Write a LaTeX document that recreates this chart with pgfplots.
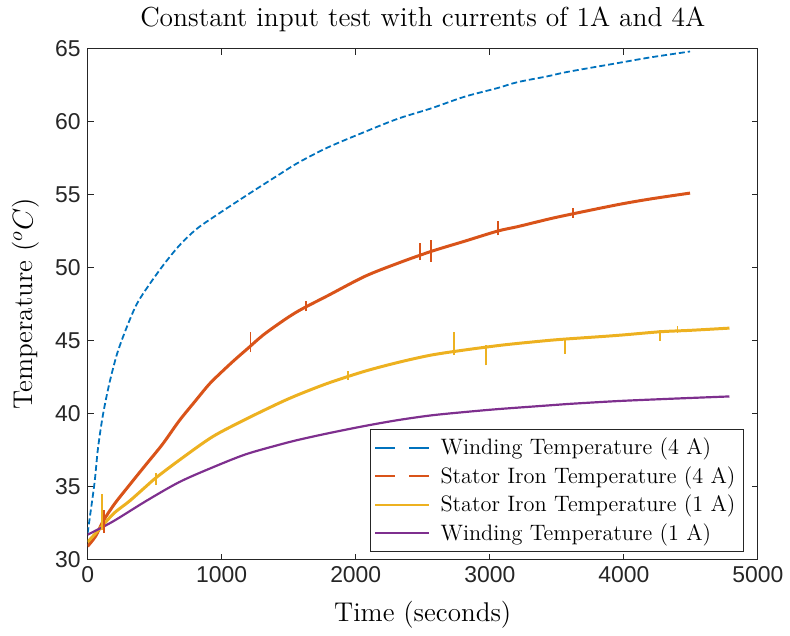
\documentclass[border=0pt]{standalone}
\usepackage{fontspec}
\usepackage{pgfplots}
\pgfplotsset{compat=1.18}
\newfontfamily\tickfont{Liberation Sans}
\definecolor{mblue}{rgb}{0,0.447,0.741}
\definecolor{morange}{rgb}{0.85,0.325,0.098}
\definecolor{myellow}{rgb}{0.929,0.694,0.125}
\definecolor{mpurple}{rgb}{0.494,0.184,0.556}
\definecolor{axgray}{rgb}{0.15,0.15,0.15}
\begin{document}
\begin{tikzpicture}
\begin{axis}[
  scale only axis,
  width=336.5pt, height=256.5pt,
  xmin=0, xmax=5000, ymin=30, ymax=65,
  xtick={0,1000,2000,3000,4000,5000},
  ytick={30,35,40,45,50,55,60,65},
  scaled ticks=false,
  /pgf/number format/.cd, 1000 sep={}, assume math mode=true,
  /pgfplots/.cd,
  tick align=inside,
  major tick length=3pt,
  axis line style={axgray, line width=0.6pt},
  every tick/.style={axgray, line width=0.6pt},
  tick label style={font=\tickfont\fontsize{11.5}{13}\selectfont, text=axgray},
  title={Constant input test with currents of 1A and 4A},
  title style={font=\fontsize{13.8}{16}\selectfont, yshift=-1pt},
  xlabel={Time (seconds)},
  ylabel={Temperature ($^oC$)},
  label style={font=\fontsize{13.6}{16}\selectfont},
  xlabel style={yshift=-2.5pt},
  ylabel style={yshift=1pt},
  unbounded coords=jump,
  legend cell align=left,
  legend style={at={(axis description cs:1,0)}, anchor=south east,
    xshift=-7pt, yshift=4pt, draw=axgray, line width=0.5pt, fill=white,
    font=\fontsize{11.2}{13.3}\selectfont, row sep=0.4pt, inner sep=2pt},
]
\addplot[mblue, line width=0.9pt, dash pattern=on 3pt off 1.5pt, smooth, tension=0.5,
  legend image code/.code={\draw[mblue, line width=1pt, dash pattern=on 10pt off 7pt] (0pt,0pt) -- (27pt,0pt); \path (30pt,0pt);}]
  coordinates {
  (0,31.8) (15,32.8) (52,35.3) (77,37.6) (114,39.9) (163,42.1) (220,44.1)
  (287,45.8) (361,47.4) (435,48.5) (559,50.1) (683,51.5) (807,52.6) (930,53.4)
  (1178,54.9) (1425,56.35) (1574,57.2) (1797,58.25) (2069,59.3) (2316,60.2)
  (2561,60.9) (2811,61.7) (3059,62.3) (3207,62.7) (3430,63.1) (3578,63.4)
  (3950,64.0) (4200,64.4) (4494,64.8)
  };
\addlegendentry{Winding Temperature (4 A)}
\addplot[morange, line width=1.5pt, smooth, tension=0.5,
  legend image code/.code={\draw[morange, line width=1pt, dash pattern=on 10pt off 7pt] (0pt,0pt) -- (27pt,0pt); \path (30pt,0pt);}]
  coordinates {
  (0,30.9) (60,31.6) (114,32.6) (200,33.8) (312,35.1) (435,36.5) (559,37.9)
  (683,39.5) (807,40.9) (906,42.0) (1000,42.85) (1100,43.7) (1200,44.5)
  (1327,45.5) (1549,46.9) (1797,48.1) (2069,49.4) (2316,50.3)
  (2561,51.1) (2811,51.8) (3059,52.5)
  (3207,52.8) (3430,53.3) (3578,53.6) (3950,54.3) (4200,54.7) (4494,55.1)
  };
\addlegendentry{Stator Iron Temperature (4 A)}
\addplot[myellow, line width=1.5pt, smooth, tension=0.5,
  legend image code/.code={\draw[myellow, line width=1pt] (0pt,0pt) -- (27pt,0pt); \path (30pt,0pt);}]
  coordinates {
  (0,31.2) (50,31.7) (109,32.3) (200,33.2) (312,34.0)
  (435,35.0) (510,35.6) (683,36.8) (930,38.4)
  (1178,39.6) (1425,40.7) (1574,41.3) (1800,42.1) (2069,42.9) (2316,43.5)
  (2561,44.0) (2811,44.35) (3059,44.65) (3207,44.8) (3430,45.0)
  (3563,45.1) (3950,45.35) (4270,45.6) (4500,45.7) (4788,45.85)
  };
\addlegendentry{Stator Iron Temperature (1 A)}
\addplot[mpurple, line width=1.1pt, smooth, tension=0.5,
  legend image code/.code={\draw[mpurple, line width=1pt] (0pt,0pt) -- (27pt,0pt); \path (30pt,0pt);}]
  coordinates {
  (0,31.7) (188,32.6) (435,34.0) (683,35.3) (930,36.3) (1178,37.2)
  (1425,37.85) (1574,38.2) (1797,38.65) (2069,39.15) (2316,39.55) (2561,39.87)
  (2811,40.1) (3059,40.3) (3430,40.55) (3578,40.65) (3950,40.85) (4321,41.0)
  (4788,41.17)
  };
\addlegendentry{Winding Temperature (1 A)}
% measurement spikes
\addplot[morange, line width=0.9pt, forget plot] coordinates {
  (125,31.8) (125,33.4) (125,nan)
  (1215,44.2) (1215,45.6) (1215,nan)
  (1630,47.0) (1630,47.7) (1630,nan)
  (2477,50.5) (2477,51.7) (2477,nan)
  (2561,50.4) (2561,51.9) (2561,nan)
  (3059,52.2) (3059,53.2) (3059,nan)
  (3620,53.4) (3620,54.1)
  };
\addplot[myellow, line width=0.9pt, forget plot] coordinates {
  (109,32.0) (109,34.5) (109,nan)
  (510,35.1) (510,35.9) (510,nan)
  (1940,42.3) (1940,42.9) (1940,nan)
  (2732,44.0) (2732,45.6) (2732,nan)
  (2972,43.3) (2972,44.7) (2972,nan)
  (3563,44.1) (3563,45.2) (3563,nan)
  (4270,45.0) (4270,45.7) (4270,nan)
  (4400,45.5) (4400,46.0)
  };
\end{axis}
\path[use as bounding box] (-44pt,-38pt) rectangle (351pt,279pt);
\end{tikzpicture}
\end{document}
